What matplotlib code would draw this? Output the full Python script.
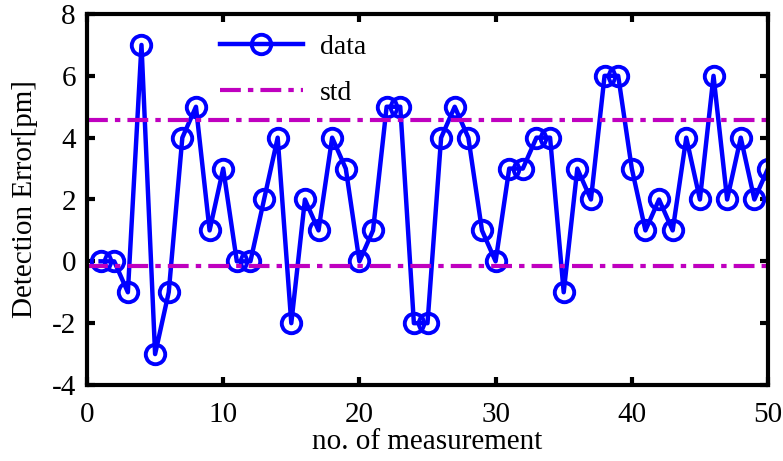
import numpy as np
import matplotlib
matplotlib.use("Agg")
import matplotlib.pyplot as plt

# measurement number and detection error [pm]
meas_no = list(range(1, 51))
error_pm = [0, 0, -1, 7, -3, -1, 4, 5, 1, 3,
            0, 0, 2, 4, -2, 2, 1, 4, 3, 0,
            1, 5, 5, -2, -2, 4, 5, 4, 1, 0,
            3, 3, 4, 4, -1, 3, 2, 6, 6, 3,
            1, 2, 1, 4, 2, 6, 2, 4, 2, 3]
std_upper = 4.58
std_lower = -0.15

plt.rcParams['font.family'] = ['Liberation Serif', 'DejaVu Serif']
plt.rcParams['axes.unicode_minus'] = False

fig = plt.figure(figsize=(7.83, 4.61), dpi=100)
ax = fig.add_axes([87 / 783, 76 / 461, (768 - 87) / 783, (385 - 14) / 461])

ax.plot(meas_no, error_pm, color='#0000ff', lw=3.2, marker='o', ms=14,
        mfc='none', mec='#0000ff', mew=2.8, label='data')
ax.axhline(std_upper, color='#bf00bf', lw=3.0, ls=(0, (5, 1.7, 1.3, 1.7)), label='std')
ax.axhline(std_lower, color='#bf00bf', lw=3.0, ls=(0, (5, 1.7, 1.3, 1.7)))

ax.set_xlim(0, 50)
ax.set_ylim(-4, 8)
ax.set_xticks([0, 10, 20, 30, 40, 50])
ax.set_yticks([-4, -2, 0, 2, 4, 6, 8])
ax.tick_params(direction='in', length=6, width=3, labelsize=21,
               top=True, right=True)
ax.tick_params(axis='x', pad=12)
ax.tick_params(axis='y', pad=8)
for s in ax.spines.values():
    s.set_linewidth(3)

ax.set_xlabel('no. of measurement', fontsize=21, labelpad=1)
ax.set_ylabel('Detection Error[pm]', fontsize=21, labelpad=10)

ax.legend(loc='upper left', bbox_to_anchor=(0.195, 0.945), frameon=False,
          borderpad=0, borderaxespad=0,
          fontsize=20, handlelength=3.0, labelspacing=0.75, handletextpad=0.6)

fig.savefig('out.png', dpi=100)
